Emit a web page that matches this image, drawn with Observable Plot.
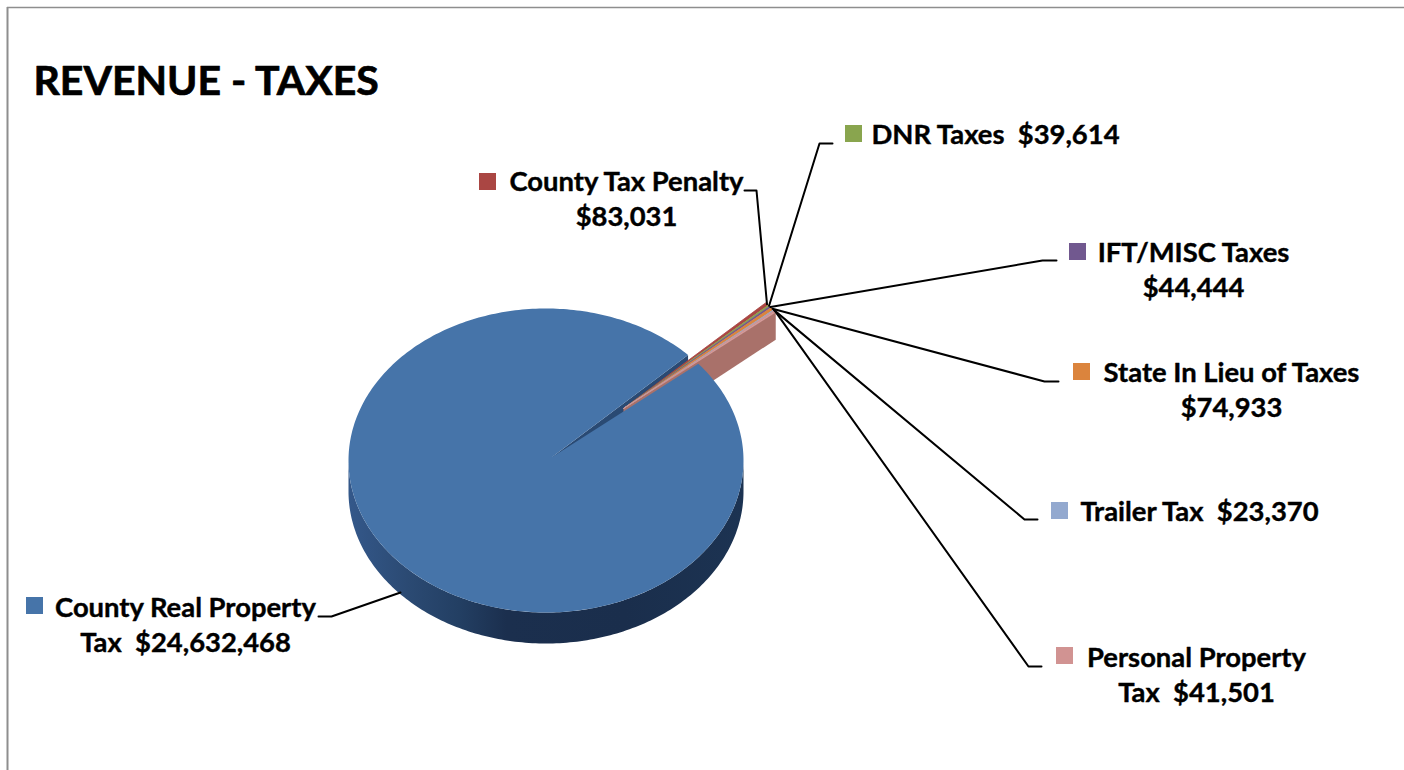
<!DOCTYPE html>
<html>
<head>
<meta charset="utf-8">
<script src="https://cdn.jsdelivr.net/npm/d3@7"></script>
<script src="https://cdn.jsdelivr.net/npm/@observablehq/plot@0.6"></script>
<style>
  html, body { margin: 0; padding: 0; background: #fff; overflow: hidden; }
  svg { display: block; }
</style>
</head>
<body>
<div id="chart"></div>
<script>
// Tax revenue by source, in dollars
const categories = ["County Real Property Tax", "County Tax Penalty", "DNR Taxes", "IFT/MISC Taxes", "State In Lieu of Taxes", "Trailer Tax", "Personal Property Tax"];
const taxValues = [24632468, 83031, 39614, 44444, 74933, 23370, 41501];
const sliceColors = ["#4674a9", "#aa4643", "#89a54e", "#71588f", "#db843d", "#93a9cf", "#d19392"];

// Text in front of the value, and whether the value wraps to its own line
const labelHeads = ["County Real Property\nTax", "County Tax Penalty", "DNR Taxes", "IFT/MISC Taxes", "State In Lieu of Taxes", "Trailer Tax", "Personal Property\nTax"];
const labelBreaks = [false, true, false, true, true, false, false];

// Page layout, in pixels
const labelX = [185, 626, 995, 1193, 1231, 1199, 1196];
const labelY = [623, 197, 132, 268, 388, 509, 673];
const swatchX = [34, 487, 853, 1077, 1081, 1059, 1064];
const swatchY = [605, 181, 133, 251, 371, 510, 655];
const elbowX = [331, 756, 819, 1042, 1044, 1024, 1028];
const elbowY = [616, 190, 143, 260, 381, 519, 666];
const stubX = [318, 744, 832, 1056, 1058, 1037, 1041];
const bigLeaderStart = [400, 592];

// Pie projection: the drawn outline, its off-centre apex, and how far the small slices pull out
const W = 1404, H = 770;
const cx = 545.5, cy = 460, rx = 197.5, ry = 152, depth = 31;
const apexX = 551, apexY = 457;
const explodeX = 72, explodeY = -49;
const startDegrees = 44;   // where the first small slice begins, counter-clockwise from east

const total = d3.sum(taxValues);
const fmt = d3.format("$,");
const rad = Math.PI / 180;
const slices = [];
{
  // Slices run clockwise; the small ones come first, the large one closes the circle
  let a = startDegrees;
  for (let i = 1; i < taxValues.length; ++i) {
    const sweep = taxValues[i] / total * 360;
    slices.push({i, a0: a, a1: a - sweep});
    a -= sweep;
  }
  slices.push({i: 0, a0: a, a1: a - taxValues[0] / total * 360});
}
const big = slices[slices.length - 1];
const smallEnd = big.a0;

// Point on the large slice's rim, and on the rim of the pulled-out group
const rim = a => [cx + rx * Math.cos(a * rad), cy - ry * Math.sin(a * rad)];
const outRim = a => [apexX + explodeX + rx * Math.cos(a * rad), apexY + explodeY - ry * Math.sin(a * rad)];
function arc(point, a0, a1) {
  const n = Math.max(2, Math.ceil(Math.abs(a1 - a0)));
  return d3.range(n + 1).map(k => point(a0 + (a1 - a0) * k / n));
}
const shape = (points, key) => points.map(([x, y]) => ({x, y, key}));

const outApex = [apexX + explodeX, apexY + explodeY];
const bigFace = shape([[apexX, apexY], ...arc(rim, big.a0, big.a1)], "big");
const sideArc = arc(rim, 180, 360);
const bigSide = shape([...sideArc, ...sideArc.slice().reverse().map(([x, y]) => [x, y + depth])], "side");
const notchRim = rim(startDegrees);
const notchWall = shape([[apexX, apexY], notchRim, [notchRim[0], notchRim[1] + depth], [apexX, apexY + depth]], "notch");
const outEdge = outRim(smallEnd);
const smallWall = shape([outApex, outEdge, [outEdge[0], outEdge[1] + depth - 3], [outApex[0], outApex[1] + depth]], "wall");

// Leader lines: each starts on its own slice's outer edge, the large one on the side wall
const leaderRows = slices.map(s => {
  const start = s.i === 0 ? bigLeaderStart : outRim((s.a0 + s.a1) / 2);
  return [
    {x: start[0], y: start[1], key: s.i},
    {x: elbowX[s.i], y: elbowY[s.i], key: s.i},
    {x: stubX[s.i], y: elbowY[s.i], key: s.i}
  ];
}).flat();

const labelRows = categories.map((name, i) => ({
  name,
  text: `${labelHeads[i]}${labelBreaks[i] ? "\n" : "\u00a0\u00a0"}${fmt(taxValues[i])}`,
  x: labelX[i], y: labelY[i],
  sx: swatchX[i], sy: swatchY[i],
  color: sliceColors[i]
}));

// Shading for the pie's side wall, dark towards the front and right
const wallGradient = () => {
  const svg = d3.create("svg:g");
  const g = svg.append("defs").append("linearGradient").attr("id", "wallShade");
  [[0, "#34588a"], [0.15, "#2b4a73"], [0.28, "#233f63"], [0.4, "#1b2f4e"], [0.7, "#1a2e4c"], [1, "#1c3352"]]
    .forEach(([o, c]) => g.append("stop").attr("offset", o).attr("stop-color", c));
  return svg.node();
};

const polygon = (rows, fill, options) => Plot.line(rows, {x: "x", y: "y", z: "key", fill, stroke: "none", curve: "linear-closed", ...options});

const chart = Plot.plot({
  width: W,
  height: H,
  margin: 0,
  x: {domain: [0, W], range: [0, W], axis: null},
  y: {domain: [0, H], range: [0, H], axis: null},
  style: {background: "#fff", fontFamily: "Lato, 'Open Sans', sans-serif"},
  marks: [
    wallGradient,
    // Sheet border
    Plot.ruleX([7], {y1: 7, y2: H, stroke: "#8e8e8e", strokeWidth: 2}),
    Plot.ruleY([7], {x1: 7, x2: W, stroke: "#8e8e8e", strokeWidth: 1.5}),
    // Pie body, back to front
    polygon(bigSide, "url(#wallShade)"),
    polygon(notchWall, "#2a4a73"),
    polygon(smallWall, "#a9716a"),
    polygon(bigFace, sliceColors[0]),
    ...slices.filter(s => s.i > 0).map(s =>
      polygon(shape([outApex, ...arc(outRim, s.a0, s.a1)], s.i), sliceColors[s.i], {stroke: sliceColors[s.i], strokeWidth: 0.8})
    ),
    // Leaders
    Plot.line(leaderRows, {x: "x", y: "y", z: "key", stroke: "#000", strokeWidth: 2, curve: "linear"}),
    // Swatches and labels, thickened slightly with a fine outline
    Plot.dot(labelRows, {x: "sx", y: "sy", symbol: "square", r: 9.6, fill: "color", stroke: "none"}),
    Plot.text(labelRows, {x: "x", y: "y", text: "text", fontSize: 27.4, fontWeight: 700, fill: "#000", stroke: "#000", strokeWidth: 0.4, lineHeight: 1.277, textAnchor: "middle"}),
    Plot.text(["REVENUE - TAXES"], {x: [33], y: [81], textAnchor: "start", fontSize: 41, fontWeight: 700, fill: "#000", stroke: "#000", strokeWidth: 0.7})
  ]
});
document.getElementById("chart").append(chart);
</script>
</body>
</html>
